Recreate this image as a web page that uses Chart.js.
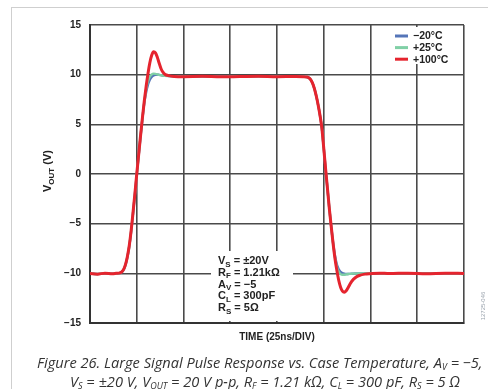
<!DOCTYPE html>
<html>
<head>
<meta charset="utf-8">
<script src="https://cdn.jsdelivr.net/npm/chart.js@4.4.1/dist/chart.umd.min.js"></script>
<style>
  html, body { margin: 0; padding: 0; background: #fff; }
  #wrap { position: relative; width: 488px; height: 389px; overflow: hidden; }
  #frame { position: absolute; left: 11px; top: 7px; width: 520px; height: 420px;
           border-left: 1px solid #cfcfcf; border-top: 1px solid #cfcfcf; }
  #c { position: absolute; left: 0; top: 0; }
  .cap { position: absolute; white-space: nowrap; font-family: "Open Sans", sans-serif;
         font-style: italic; font-size: 14.6px; line-height: 18px; color: #333; letter-spacing: 0px; }
  .cap sub { font-size: 9px; vertical-align: -2px; line-height: 0; }
</style>
</head>
<body>
<div id="wrap">
  <div id="frame"></div>
  <canvas id="c" width="488" height="389"></canvas>
  <div class="cap" style="left:37px; top:353px;">Figure 26. Large Signal Pulse Response vs. Case Temperature, A<sub>V</sub> = −5,</div>
  <div class="cap" style="left:70px; top:372px;">V<sub>S</sub> = ±20 V, V<sub>OUT</sub> = 20 V p-p, R<sub>F</sub> = 1.21 kΩ, C<sub>L</sub> = 300 pF, R<sub>S</sub> = 5 Ω</div>
</div>
<script>
// ---- data (time in ns, output in V) ----
const timeNs = [0,4,8,12,14, 16,17,18,19,20, 21,22,23,24,25, 26,27,28,29,30, 31,32,33,34,35,
  36,37,38,39,40, 42,45,50,60,70, 80,90,100,110,114, 116,117,118,119,120, 121,122,123,124,125,
  126,127,128,129,130, 131,132,133,134,135, 136,137,138,139,140, 142,144,147,150,155, 160,170,180,190,200];

const seriesLabels = ['−20°C', '+25°C', '+100°C'];

const voutMinus20 = [-10.02,-10.06,-9.99,-10.04,-10.0, -9.96,-9.87,-9.63,-9.15,-8.38, -7.3,-5.8,-4.0,-2.1,-0.1,
  1.8,3.7,5.5,7.1,8.2, 9.0,9.5,9.78,9.93,9.99, 10.0,9.98,9.95,9.92,9.9, 9.87,9.83,9.8,9.82,9.79,
  9.81,9.83,9.8,9.81,9.8, 9.76,9.68,9.5,9.15,8.6, 7.85,6.95,5.9,4.6,2.6, 0.5,-1.5,-3.5,-5.3,-6.9,
  -8.2,-9.1,-9.6,-9.85,-9.98, -10.04,-10.06,-10.06,-10.05,-10.04, -10.02,-10.01,-10.0,-10.0,-9.99,
  -10.01,-9.99,-10.02,-9.99,-10.0];

const voutPlus25 = [-10.02,-10.07,-9.98,-10.05,-10.0, -9.95,-9.86,-9.61,-9.12,-8.33, -7.25,-5.75,-3.95,-2.05,-0.05,
  1.85,3.75,5.55,7.2,8.5, 9.35,9.8,10.02,10.1,10.08, 10.03,9.98,9.94,9.91,9.89, 9.86,9.82,9.8,9.83,9.78,
  9.81,9.84,9.79,9.82,9.8, 9.76,9.68,9.5,9.15,8.6, 7.85,6.95,5.9,4.6,2.6, 0.5,-1.5,-3.5,-5.3,-7.0,
  -8.4,-9.35,-9.85,-10.08,-10.15, -10.14,-10.1,-10.07,-10.05,-10.04, -10.02,-10.01,-10.0,-10.01,-9.99,
  -10.01,-9.99,-10.02,-9.99,-10.0];

const voutPlus100 = [-10.02,-10.08,-9.98,-10.05,-10.0, -9.95,-9.85,-9.6,-9.1,-8.3, -7.2,-5.7,-3.9,-2.0,0.0,
  1.9,3.8,5.6,7.3,8.8, 10.1,11.2,11.95,12.3,12.2, 11.75,11.15,10.6,10.25,10.05, 9.9,9.82,9.8,9.83,9.78,
  9.81,9.84,9.79,9.82,9.8, 9.76,9.68,9.5,9.15,8.6, 7.85,6.95,5.9,4.6,2.6, 0.5,-1.5,-3.5,-5.3,-7.0,
  -8.5,-9.7,-10.7,-11.4,-11.8, -11.9,-11.75,-11.45,-11.1,-10.8, -10.42,-10.22,-10.08,-10.03,-9.98,
  -10.02,-9.98,-10.03,-9.98,-10.01];

const xTickStep = 25;           // 25 ns per division
const yTickLabels = [15, 10, 5, 0, -5, -10, -15];

const conditionLines = [
  ['V', 'S', ' = ±20V'],
  ['R', 'F', ' = 1.21kΩ'],
  ['A', 'V', ' = −5'],
  ['C', 'L', ' = 300pF'],
  ['R', 'S', ' = 5Ω']
];

// ---- chart ----
const colors = ['#5575b8', '#80d0a6', '#e5242e'];
const widths = [2.4, 2.4, 3];
const drawOrder = [2, 1, 0];   // red on top
const seriesValues = [voutMinus20, voutPlus25, voutPlus100];

const datasets = seriesValues.map((vals, i) => ({
  label: seriesLabels[i],
  data: vals.map((v, k) => ({ x: timeNs[k], y: v })),
  borderColor: colors[i],
  backgroundColor: colors[i],
  borderWidth: widths[i],
  order: drawOrder[i],
  pointRadius: 0,
  cubicInterpolationMode: 'monotone',
  fill: false
}));

const FONT = '"Liberation Sans", Arial, sans-serif';

const overlay = {
  id: 'overlay',
  beforeDatasetsDraw(chart) {
    const ctx = chart.ctx, a = chart.chartArea;
    ctx.save();
    ctx.fillStyle = '#fff';
    ctx.fillRect(a.right - 72, a.top + 2, 70, 37);
    ctx.fillRect(211, 251, 82, a.bottom - 2 - 251);
    ctx.restore();
  },
  afterDatasetsDraw(chart) {
    const ctx = chart.ctx, a = chart.chartArea;
    ctx.save();
    const lx = a.right - 69, ly = a.top + 11;
    chart.data.datasets.forEach((ds, i) => {
      const y = ly + i * 11.6;
      ctx.strokeStyle = ds.borderColor;
      ctx.lineWidth = 3;
      ctx.beginPath(); ctx.moveTo(lx, y); ctx.lineTo(lx + 13, y); ctx.stroke();
      ctx.fillStyle = '#222';
      ctx.font = 'bold 10.5px ' + FONT;
      ctx.textBaseline = 'middle';
      ctx.textAlign = 'left';
      ctx.fillText(ds.label, lx + 18, y + 0.5);
    });
    conditionLines.forEach((ln, i) => {
      const y = 264 + i * 11.8;
      let x = 218;
      ctx.textBaseline = 'alphabetic';
      ctx.fillStyle = '#222';
      ctx.font = 'bold 11px ' + FONT;
      ctx.fillText(ln[0], x, y); x += ctx.measureText(ln[0]).width;
      ctx.font = 'bold 8px ' + FONT;
      ctx.fillText(ln[1], x, y + 2.5); x += ctx.measureText(ln[1]).width;
      ctx.font = 'bold 11px ' + FONT;
      ctx.fillText(ln[2], x, y);
    });
    ctx.restore();
  },
  afterDraw(chart) {
    const ctx = chart.ctx, a = chart.chartArea;
    ctx.save();
    ctx.fillStyle = '#222';
    ctx.font = 'bold 10px ' + FONT;
    ctx.textAlign = 'center';
    ctx.textBaseline = 'middle';
    ctx.fillText('TIME (25ns/DIV)', (a.left + a.right) / 2, 337);
    ctx.translate(47, (a.top + a.bottom) / 2 - 3);
    ctx.rotate(-Math.PI / 2);
    const p1 = 'V', p2 = 'OUT', p3 = ' (V)';
    ctx.font = 'bold 11px ' + FONT; const w1 = ctx.measureText(p1).width; const w3 = ctx.measureText(p3).width;
    ctx.font = 'bold 8px ' + FONT; const w2 = ctx.measureText(p2).width;
    let x = -(w1 + w2 + w3) / 2;
    ctx.textAlign = 'left';
    ctx.textBaseline = 'alphabetic';
    ctx.font = 'bold 11px ' + FONT; ctx.fillText(p1, x, 4); x += w1;
    ctx.font = 'bold 8px ' + FONT; ctx.fillText(p2, x, 6.5); x += w2;
    ctx.font = 'bold 11px ' + FONT; ctx.fillText(p3, x, 4);
    ctx.restore();
    ctx.save();
    ctx.translate(483, 306);
    ctx.rotate(-Math.PI / 2);
    ctx.fillStyle = '#9aa3ad';
    ctx.font = '6px ' + FONT;
    ctx.textAlign = 'center';
    ctx.textBaseline = 'middle';
    ctx.fillText('12725-046', 0, 0);
    ctx.restore();
  }
};

new Chart(document.getElementById('c'), {
  type: 'line',
  data: { datasets },
  options: {
    responsive: false,
    animation: false,
    devicePixelRatio: 1,
    layout: { padding: { left: 0, top: 25, right: 24, bottom: 0 } },
    plugins: { legend: { display: false }, tooltip: { enabled: false } },
    scales: {
      x: {
        type: 'linear', min: 0, max: 200,
        ticks: { stepSize: xTickStep, display: false },
        grid: { color: '#4a4a4a', lineWidth: 1.6, drawTicks: false },
        border: { color: '#333', width: 2 },
        afterFit(s) { s.height = 66; }
      },
      y: {
        min: -15, max: 15,
        afterBuildTicks(s) { s.ticks = yTickLabels.map(v => ({ value: v })); },
        ticks: {
          padding: 9, color: '#222',
          font: { family: FONT, weight: 'bold', size: 10 },
          callback: v => String(v).replace('-', '−')
        },
        grid: { color: '#4a4a4a', lineWidth: 1.6, drawTicks: false },
        border: { color: '#333', width: 2 },
        afterFit(s) { s.width = 90; }
      }
    }
  },
  plugins: [overlay]
});
</script>
</body>
</html>
